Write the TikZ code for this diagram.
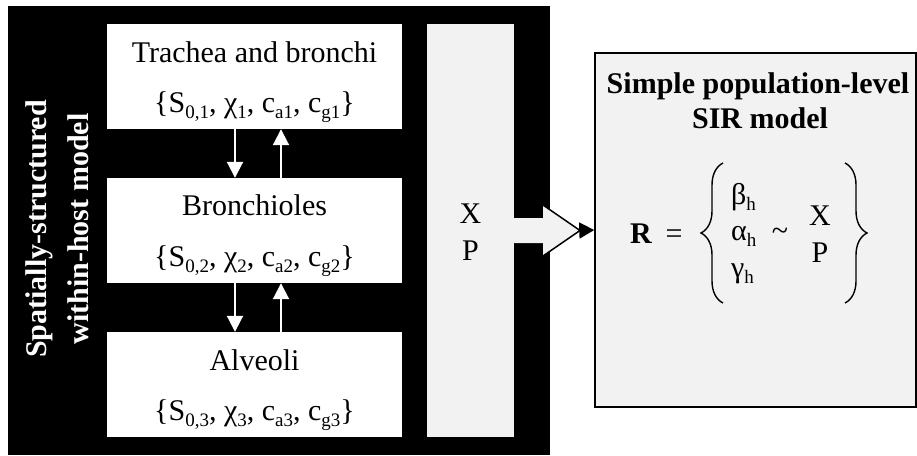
\documentclass[tikz,border=0pt]{standalone}
\usepackage{fontspec}
\setmainfont{Liberation Serif}
\usetikzlibrary{arrows.meta,decorations.pathreplacing}
\definecolor{panelgray}{HTML}{F2F2F2}
% lowered, smaller subscript for the parameter sets
\newcommand\lsub[1]{\raisebox{-6pt}{\fontsize{19}{19}\selectfont #1}}
\begin{document}
\begin{tikzpicture}[x=1pt,y=-1pt,
  tissue/.style={fill=white, draw=none, minimum width=295pt, minimum height=105pt, inner sep=0pt},
  lbl/.style={font=\fontsize{30}{36}\selectfont, inner sep=0pt, anchor=base},
  flow/.style={draw=white, line width=2pt, -{Triangle[width=16pt,length=16pt]}},
  brc/.style={decorate, decoration={brace, amplitude=22pt}, line width=1.4pt}
]
\useasboundingbox (0,0) rectangle (917,455);

% within-host model frame
\node[fill=black, minimum width=542pt, minimum height=449pt, inner sep=0pt] (frame) at (279,230.5) {};
\node[font=\bfseries\fontsize{30}{42}\selectfont, text=white, rotate=90, align=center, inner sep=0pt] (hosttitle) at (57,229) {Spatially-structured\\within-host model};

% respiratory tract compartments
\node[tissue] (trachea) at (254.5,76.5) {};
\node[tissue] (bronch)  at (254.5,230.5) {};
\node[tissue] (alveoli) at (254.5,384.5) {};

\node[lbl] at (254.5,62) {Trachea and bronchi};
\node[lbl] at (254.5,112.5) {\{S\lsub{0,1}, χ\lsub{1}, c\lsub{a1}, c\lsub{g1}\}};
\node[lbl] at (254.5,215) {Bronchioles};
\node[lbl] at (254.5,266.5) {\{S\lsub{0,2}, χ\lsub{2}, c\lsub{a2}, c\lsub{g2}\}};
\node[lbl] at (254.5,370) {Alveoli};
\node[lbl] at (254.5,420.5) {\{S\lsub{0,3}, χ\lsub{3}, c\lsub{a3}, c\lsub{g3}\}};

% exchange between compartments
\draw[flow] ([xshift=-19.5pt]trachea.south) -- ([xshift=-19.5pt]bronch.north);
\draw[flow] ([xshift=26.5pt]bronch.north) -- ([xshift=26.5pt]trachea.south);
\draw[flow] ([xshift=-19.5pt]bronch.south) -- ([xshift=-19.5pt]alveoli.north);
\draw[flow] ([xshift=26.5pt]alveoli.north) -- ([xshift=26.5pt]bronch.south);

% model outputs
\node[fill=panelgray, minimum width=87pt, minimum height=413pt, inner sep=0pt] (xp) at (470.5,230.5) {};
\node[lbl] at (470.5,223) {X};
\node[lbl] at (470.5,260) {P};

% wide arrow carrying X, P to the population model
\coordinate (tip) at (580,230.5);
\fill[panelgray] (513,218) -- (543,218) -- (543,205) -- (tip) -- (543,256) -- (543,243) -- (513,243) -- cycle;
\draw[line width=1.5pt] (543,205) -- (tip) -- (543,256);

% population-level model
\node[fill=panelgray, draw=black, line width=1.5pt, minimum width=321pt, minimum height=354pt, inner sep=0pt] (sir) at (755.5,230) {};
\draw[line width=1.5pt, -{Triangle[length=15pt,width=16pt]}] (tip) -- (sir.west);

\node[lbl, font=\bfseries\fontsize{30}{36}\selectfont] at (758,93) {Simple population-level};
\node[lbl, font=\bfseries\fontsize{30}{36}\selectfont] at (760,128) {SIR model};

\node[lbl] at (641,243) {\textbf{R}};
\node[lbl] at (674,243) {=};
\draw[brc] (723,303) -- (723,163);
\node[lbl, anchor=base west] at (731,204) {β\lsub{h}};
\node[lbl, anchor=base west] at (731,240) {α\lsub{h}};
\node[lbl, anchor=base west] at (731,277) {γ\lsub{h}};
\node[lbl] at (780,240) {\textasciitilde};
\node[lbl] at (820,225) {X};
\node[lbl] at (820,262) {P};
\draw[brc] (845,163) -- (845,303);
\end{tikzpicture}
\end{document}
